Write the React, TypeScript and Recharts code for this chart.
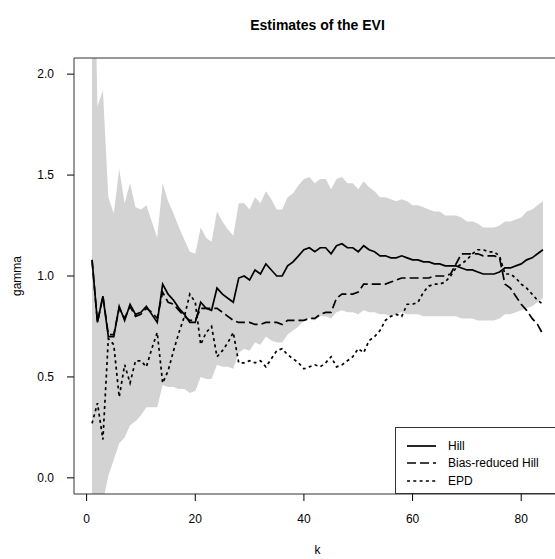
import React from "react";
import {
  ComposedChart,
  Area,
  Line,
  XAxis,
  YAxis,
  ReferenceArea,
  Legend,
} from "recharts";

// number of upper order statistics used (x axis)
const kValues = Array.from({ length: 84 }, (_, i) => i + 1);

const hill = [
  1.08, 0.77, 0.9, 0.7, 0.7, 0.85, 0.78, 0.86, 0.81, 0.82,
  0.85, 0.81, 0.77, 0.96, 0.91, 0.88, 0.84, 0.81, 0.77, 0.77,
  0.87, 0.84, 0.83, 0.94, 0.91, 0.89, 0.87, 0.99, 1.0, 0.98,
  1.03, 1.01, 1.06, 1.03, 1.0, 1.0, 1.05, 1.07, 1.1, 1.13,
  1.14, 1.12, 1.14, 1.14, 1.11, 1.15, 1.16, 1.14, 1.14, 1.12,
  1.15, 1.13, 1.12, 1.1, 1.1, 1.09, 1.09, 1.1, 1.09, 1.08,
  1.08, 1.07, 1.07, 1.06, 1.06, 1.05, 1.05, 1.05, 1.04, 1.03,
  1.03, 1.02, 1.01, 1.01, 1.01, 1.02, 1.04, 1.04, 1.05, 1.06,
  1.08, 1.09, 1.11, 1.13,
];

const brHill = [
  1.08, 0.77, 0.9, 0.71, 0.71, 0.84, 0.79, 0.85, 0.8, 0.81,
  0.84, 0.82, 0.79, 0.92, 0.87, 0.86, 0.83, 0.8, 0.78, 0.78,
  0.84, 0.84, 0.84, 0.84, 0.82, 0.8, 0.78, 0.77, 0.77, 0.77,
  0.76, 0.76, 0.77, 0.77, 0.77, 0.76, 0.78, 0.78, 0.78, 0.78,
  0.79, 0.79, 0.81, 0.82, 0.82, 0.89, 0.91, 0.91, 0.91, 0.92,
  0.96, 0.96, 0.96, 0.96, 0.96, 0.97, 0.98, 0.99, 0.99, 0.99,
  0.99, 0.99, 0.99, 1.0, 1.0, 1.0, 1.01, 1.06, 1.11, 1.11,
  1.11, 1.11, 1.1, 1.1, 1.1, 1.09, 0.96, 0.94, 0.9, 0.86,
  0.83, 0.79, 0.76, 0.71,
];

const epd = [
  0.27, 0.37, 0.19, 0.69, 0.66, 0.4, 0.56, 0.47, 0.58, 0.58,
  0.55, 0.64, 0.72, 0.47, 0.53, 0.63, 0.72, 0.8, 0.91, 0.87,
  0.66, 0.72, 0.75, 0.6, 0.63, 0.67, 0.72, 0.57, 0.57, 0.58,
  0.57, 0.58, 0.55, 0.59, 0.63, 0.64, 0.61, 0.59, 0.57, 0.54,
  0.55, 0.56, 0.55, 0.57, 0.6, 0.55, 0.56, 0.58, 0.6, 0.64,
  0.62, 0.68, 0.7, 0.73, 0.78, 0.8, 0.81, 0.8, 0.86, 0.86,
  0.87, 0.92, 0.95, 0.96, 0.96, 0.97, 1.0, 1.04, 1.06, 1.08,
  1.11, 1.13, 1.13, 1.12, 1.12, 1.1, 1.01, 1.01, 0.99, 0.96,
  0.94, 0.91, 0.88, 0.86,
];

// grey confidence band around the Hill estimates
const bandLow = [
  -1.04, -0.3, -0.12, 0.01, 0.09, 0.17, 0.2, 0.26, 0.28, 0.31,
  0.35, 0.35, 0.35, 0.46, 0.45, 0.45, 0.44, 0.44, 0.42, 0.43,
  0.5, 0.49, 0.49, 0.56, 0.55, 0.55, 0.54, 0.62, 0.64, 0.63,
  0.67, 0.66, 0.7, 0.68, 0.67, 0.67, 0.71, 0.73, 0.75, 0.78,
  0.79, 0.78, 0.8, 0.8, 0.79, 0.82, 0.83, 0.82, 0.82, 0.81,
  0.83, 0.82, 0.82, 0.81, 0.81, 0.8, 0.81, 0.82, 0.81, 0.81,
  0.81, 0.8, 0.8, 0.8, 0.8, 0.8, 0.8, 0.8, 0.79, 0.79,
  0.79, 0.78, 0.78, 0.78, 0.78, 0.79, 0.81, 0.81, 0.82, 0.83,
  0.84, 0.85, 0.87, 0.89,
];

const bandHigh = [
  3.2, 1.84, 1.92, 1.39, 1.31, 1.53, 1.36, 1.46, 1.34, 1.33,
  1.35, 1.27, 1.19, 1.46, 1.37, 1.31, 1.24, 1.18, 1.12, 1.11,
  1.24, 1.19, 1.17, 1.32, 1.27, 1.23, 1.2, 1.36, 1.36, 1.33,
  1.39, 1.36, 1.42, 1.38, 1.33, 1.33, 1.39, 1.41, 1.45, 1.48,
  1.49, 1.46, 1.48, 1.48, 1.43, 1.48, 1.49, 1.46, 1.46, 1.43,
  1.47, 1.44, 1.42, 1.39, 1.39, 1.38, 1.37, 1.38, 1.37, 1.35,
  1.35, 1.34, 1.33, 1.32, 1.32, 1.3, 1.3, 1.3, 1.29, 1.27,
  1.27, 1.26, 1.24, 1.24, 1.24, 1.25, 1.27, 1.27, 1.28, 1.29,
  1.32, 1.33, 1.35, 1.37,
];

const xTicks = [0, 20, 40, 60, 80];
const yTicks = [0, 0.5, 1, 1.5, 2];

const legendItems = [
  { name: "Hill", dash: undefined },
  { name: "Bias-reduced Hill", dash: "9 4" },
  { name: "EPD", dash: "3 3.3" },
];

const FONT = "'Liberation Sans', Arial, Helvetica, sans-serif";
const X_DOMAIN = [-2.32, 87.32];
const Y_DOMAIN = [-0.08, 2.08];

const data = kValues.map((k, i) => ({
  k,
  band: [bandLow[i], bandHigh[i]],
  hill: hill[i],
  brh: brHill[i],
  epd: epd[i],
}));

const LegendBox = () => (
  <div
    style={{
      width: 166,
      height: 67,
      border: "1px solid #333",
      background: "#fff",
      boxSizing: "border-box",
      fontFamily: FONT,
      fontSize: 12,
      color: "#000",
      paddingTop: 9,
    }}
  >
    {legendItems.map((it) => (
      <div
        key={it.name}
        style={{ display: "flex", alignItems: "center", height: 17.5 }}
      >
        <svg width={52} height={10} style={{ flex: "none" }}>
          <line
            x1={11}
            x2={40}
            y1={5}
            y2={5}
            stroke="#000"
            strokeWidth={1.7}
            strokeDasharray={it.dash}
          />
        </svg>
        <span style={{ whiteSpace: "nowrap" }}>{it.name}</span>
      </div>
    ))}
  </div>
);

export default function App() {
  return (
    <div
      style={{
        position: "absolute",
        left: 0,
        top: 0,
        width: 555,
        height: 559,
        overflow: "hidden",
        background: "#fff",
      }}
    >
      <div
        style={{
          position: "absolute",
          left: 74,
          width: 487,
          top: 17,
          textAlign: "center",
          fontFamily: FONT,
          fontWeight: "bold",
          fontSize: 14,
          zIndex: 2,
        }}
      >
        Estimates of the EVI
      </div>
      <ComposedChart
        width={562}
        height={559}
        data={data}
        margin={{ top: 58, right: 1, bottom: 0, left: 0 }}
      >
        <XAxis
          dataKey="k"
          type="number"
          domain={X_DOMAIN}
          ticks={xTicks}
          allowDataOverflow
          axisLine={false}
          tickLine={{ stroke: "#000" }}
          tickSize={7}
          tickMargin={13}
          height={65}
          tick={{ fill: "#000", fontSize: 12, fontFamily: FONT }}
          label={{
            value: "k",
            position: "insideBottom",
            offset: 5,
            fill: "#000",
            fontSize: 12,
            fontFamily: FONT,
          }}
        />
        <YAxis
          type="number"
          domain={Y_DOMAIN}
          ticks={yTicks}
          allowDataOverflow
          axisLine={false}
          tickLine={{ stroke: "#000" }}
          tickSize={7}
          tickMargin={13}
          width={74}
          tickFormatter={(v: number) => v.toFixed(1)}
          tick={{ fill: "#000", fontSize: 12, fontFamily: FONT }}
          label={{
            value: "gamma",
            angle: -90,
            position: "insideLeft",
            offset: 17,
            fill: "#000",
            fontSize: 12,
            fontFamily: FONT,
            style: { textAnchor: "middle" },
          }}
        />
        <Area
          dataKey="band"
          type="linear"
          stroke="none"
          fill="#d3d3d3"
          fillOpacity={1}
          isAnimationActive={false}
        />
        <Line
          dataKey="hill"
          type="linear"
          stroke="#000"
          strokeWidth={1.7}
          dot={false}
          isAnimationActive={false}
        />
        <Line
          dataKey="brh"
          type="linear"
          stroke="#000"
          strokeWidth={1.7}
          strokeDasharray="9 4"
          dot={false}
          isAnimationActive={false}
        />
        <Line
          dataKey="epd"
          type="linear"
          stroke="#000"
          strokeWidth={1.7}
          strokeDasharray="3 3.3"
          dot={false}
          isAnimationActive={false}
        />
        <ReferenceArea
          x1={X_DOMAIN[0]}
          x2={X_DOMAIN[1]}
          y1={Y_DOMAIN[0]}
          y2={Y_DOMAIN[1]}
          fill="none"
          stroke="#333"
          strokeWidth={1}
          ifOverflow="visible"
        />
        <Legend
          layout="vertical"
          align="center"
          verticalAlign="middle"
          content={() => <LegendBox />}
          wrapperStyle={{ left: 395, top: 427, width: 166, height: 67 }}
        />
      </ComposedChart>
    </div>
  );
}
